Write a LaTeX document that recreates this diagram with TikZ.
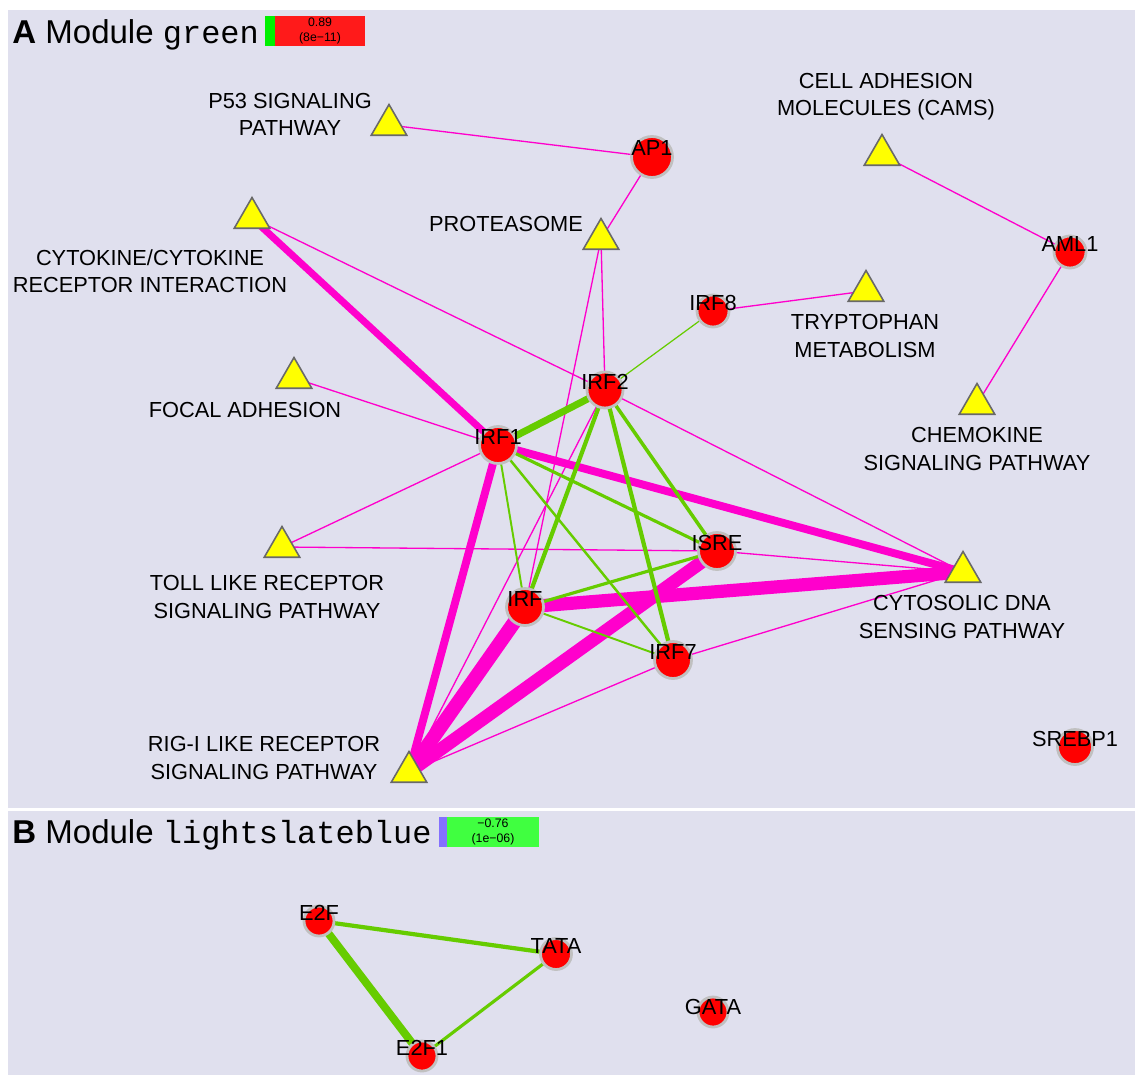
\documentclass[tikz,border=0pt]{standalone}
\usepackage{fontspec}
\setmainfont{Liberation Sans}
\setmonofont{Liberation Mono}
\usetikzlibrary{shapes.geometric, positioning}
\definecolor{panelbg}{RGB}{224,224,238}
\definecolor{motifred}{RGB}{255,0,0}
\definecolor{ringgray}{RGB}{192,192,192}
\definecolor{pathyellow}{RGB}{255,255,0}
\definecolor{trigray}{RGB}{105,105,105}
\definecolor{pathpink}{RGB}{255,0,204}
\definecolor{motifgreen}{RGB}{102,204,0}
\definecolor{corrgreen}{RGB}{0,240,0}
\definecolor{corrred}{RGB}{255,26,26}
\definecolor{slateblue}{RGB}{132,112,255}
\definecolor{pvalgreen}{RGB}{64,255,64}
\pgfdeclarelayer{panel}
\pgfdeclarelayer{edges}
\pgfsetlayers{panel,edges,main}
\newcommand{\lblfont}{\fontsize{12.4}{15.4}\selectfont}
\newcommand{\modname}[1]{{\ttfamily\fontsize{18.2}{22}\selectfont #1}}
\tikzset{
    motif/.style={circle, fill=motifred, draw=ringgray, line width=1.6pt,
        inner sep=0pt, minimum size=#1},
    motif/.default=0.74cm,
    pathway/.style={regular polygon, regular polygon sides=3, fill=pathyellow,
        draw=trigray, line width=0.9pt, inner sep=0pt, minimum size=0.82cm},
    mlbl/.style={font=\lblfont, inner sep=0pt, yshift=0.17cm},
    ptxt/.style={font=\lblfont, align=center, inner sep=0pt},
    pk/.style={draw=pathpink, line width=#1},
    gn/.style={draw=motifgreen, line width=#1},
    strip/.style={minimum width=0.2cm, minimum height=0.6cm, inner sep=0pt, outer sep=0pt},
    valbox/.style={minimum width=1.8cm, minimum height=0.6cm, inner sep=0pt, outer sep=0pt,
        align=center, font=\fontsize{7}{8.5}\selectfont},
    header/.style={anchor=base west, inner sep=0pt, font=\fontsize{18.8}{22}\selectfont}
}

\begin{document}
\begin{tikzpicture}[x=0.02cm, y=-0.02cm]

    \useasboundingbox (0,0) rectangle (1135,1075);

    % headers
    \node[header] (hdrA) at (12,43) {\textbf{A} Module \modname{green}};
    \node[strip, fill=corrgreen] (stripA) at (270,31) {};
    \node[valbox, fill=corrred, right=0pt of stripA] (valA) {0.89\\(8e−11)};

    \node[header] (hdrB) at (12,843) {\textbf{B} Module \modname{lightslateblue}};
    \node[strip, minimum width=0.16cm, fill=slateblue] (stripB) at (443,832) {};
    \node[valbox, minimum width=1.84cm, fill=pvalgreen, right=0pt of stripB] (valB) {−0.76\\(1e−06)};

    % pathways (module green)
    \node[pathway] (p53) at (389,125) {};
    \node[pathway] (cams) at (882,155) {};
    \node[pathway] (prot) at (601,239) {};
    \node[pathway] (cyto) at (252,218) {};
    \node[pathway] (trp) at (866,291) {};
    \node[pathway] (focal) at (294,378) {};
    \node[pathway] (chemo) at (977,404) {};
    \node[pathway] (toll) at (282,547) {};
    \node[pathway] (dna) at (963,572) {};
    \node[pathway] (rig) at (409,772) {};

    \node[ptxt] (p53txt) at (290,114) {P53 SIGNALING\\PATHWAY};
    \node[ptxt] (camstxt) at (886,97) {CELL ADHESION\\MOLECULES (CAMS)};
    \node[ptxt] (prottxt) at (506,224) {PROTEASOME};
    \node[ptxt] (cytotxt) at (150,271) {CYTOKINE/CYTOKINE\\RECEPTOR INTERACTION};
    \node[ptxt] (trptxt) at (865,336) {TRYPTOPHAN\\METABOLISM};
    \node[ptxt] (focaltxt) at (245,410) {FOCAL ADHESION};
    \node[ptxt] (chemotxt) at (977,449) {CHEMOKINE\\SIGNALING PATHWAY};
    \node[ptxt] (tolltxt) at (267,597) {TOLL LIKE RECEPTOR\\SIGNALING PATHWAY};
    \node[ptxt] (dnatxt) at (962,617) {CYTOSOLIC DNA\\SENSING PATHWAY};
    \node[ptxt] (rigtxt) at (264,758) {RIG-I LIKE RECEPTOR\\SIGNALING PATHWAY};

    % motifs (module green)
    \node[motif=0.82cm, label={[mlbl]center:AP1}] (ap1) at (652,157) {};
    \node[motif=0.64cm, label={[mlbl]center:AML1}] (aml1) at (1070,252) {};
    \node[motif=0.64cm, label={[mlbl]center:IRF8}] (irf8) at (713,311) {};
    \node[motif=0.72cm, label={[mlbl]center:IRF2}] (irf2) at (605,390) {};
    \node[motif, label={[mlbl]center:IRF1}] (irf1) at (498,445) {};
    \node[motif, label={[mlbl]center:ISRE}] (isre) at (717,551) {};
    \node[motif, label={[mlbl]center:IRF}] (irf) at (525,607) {};
    \node[motif, label={[mlbl]center:IRF7}] (irf7) at (673,660) {};
    \node[motif=0.7cm, label={[mlbl]center:SREBP1}] (srebp1) at (1075,747) {};

    % motifs (module lightslateblue)
    \node[motif=0.6cm, label={[mlbl]center:E2F}] (e2f) at (319,921) {};
    \node[motif=0.62cm, label={[mlbl]center:TATA}] (tata) at (556,954) {};
    \node[motif=0.6cm, label={[mlbl]center:E2F1}] (e2f1) at (422,1056) {};
    \node[motif=0.6cm, label={[mlbl, yshift=-0.06cm]center:GATA}] (gata) at (713,1012) {};

    \begin{pgfonlayer}{edges}
    % motif - pathway links
    \draw[pk=0.75pt] (p53.center) -- (ap1.center);
    \draw[pk=0.75pt] (ap1.center) -- (prot.center);
    \draw[pk=0.75pt] (cams.center) -- (aml1.center);
    \draw[pk=0.75pt] (aml1.center) -- (chemo.center);
    \draw[pk=0.75pt] (irf8.center) -- (trp.center);
    \draw[pk=0.75pt] (cyto.center) -- (irf2.center);
    \draw[pk=0.75pt] (prot.center) -- (irf2.center);
    \draw[pk=0.75pt] (prot.center) -- (irf.center);
    \draw[pk=0.75pt] (focal.center) -- (irf1.center);
    \draw[pk=0.75pt] (toll.center) -- (irf1.center);
    \draw[pk=0.75pt] (toll.center) -- (isre.center);
    \draw[pk=0.75pt] (isre.center) -- (dna.center);
    \draw[pk=0.75pt] (irf2.center) -- (dna.center);
    \draw[pk=0.75pt] (irf2.center) -- (rig.center);
    \draw[pk=0.75pt] (irf7.center) -- (rig.center);
    \draw[pk=0.75pt] (irf7.center) -- (dna.center);
    \draw[pk=4pt] (cyto.center) -- (irf1.center);
    \draw[pk=4.5pt] (irf1.center) -- (dna.center);
    \draw[pk=4.5pt] (irf1.center) -- (rig.center);
    \draw[pk=7.5pt] (irf.center) -- (dna.center);
    \draw[pk=8pt] (irf.center) -- (rig.center);
    \draw[pk=7.5pt] (isre.center) -- (rig.center);
    % motif - motif links
    \draw[gn=0.7pt] (irf8.center) -- (irf2.center);
    \draw[gn=4pt] (irf1.center) -- (irf2.center);
    \draw[gn=2.4pt] (irf2.center) -- (irf.center);
    \draw[gn=2.4pt] (irf2.center) -- (irf7.center);
    \draw[gn=2pt] (irf2.center) -- (isre.center);
    \draw[gn=1.8pt] (irf1.center) -- (isre.center);
    \draw[gn=1.1pt] (irf1.center) -- (irf.center);
    \draw[gn=1.4pt] (irf1.center) -- (irf7.center);
    \draw[gn=1.8pt] (irf.center) -- (isre.center);
    \draw[gn=1.1pt] (irf.center) -- (irf7.center);
    \draw[gn=4.5pt] (e2f.center) -- (e2f1.center);
    \draw[gn=2.4pt] (e2f.center) -- (tata.center);
    \draw[gn=1.8pt] (tata.center) -- (e2f1.center);
    \end{pgfonlayer}

    \begin{pgfonlayer}{panel}
    \fill[white] (0,0) rectangle (1135,1075);
    \fill[panelbg] (8,10) rectangle (1135,808);
    \fill[panelbg] (8,811) rectangle (1135,1075);
    \end{pgfonlayer}

\end{tikzpicture}
\end{document}
